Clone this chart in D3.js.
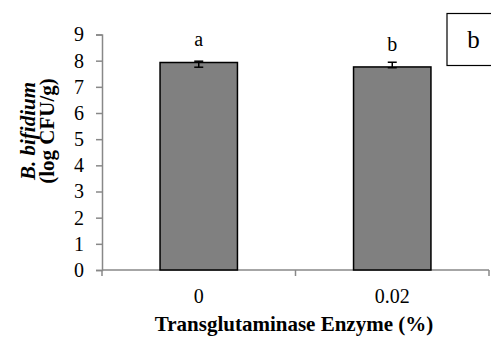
<!DOCTYPE html>
<html>
<head>
<meta charset="utf-8">
<script src="https://cdn.jsdelivr.net/npm/d3@7"></script>
<style>
    body { margin: 0; background: #fff; }
    svg, svg text { font-family: "Liberation Serif", "Times New Roman", serif; }
</style>
</head>
<body>
<div class="container"></div>
<script>
var categories = ["0", "0.02"];
var values = [7.93, 7.76];
var errLower = [7.75, 7.73];
var errUpper = [7.98, 7.94];
var letters = ["a", "b"];
var yTicks = [0, 1, 2, 3, 4, 5, 6, 7, 8, 9];

var width = 491, height = 337;
var margin = {left: 102, right: 2, top: 34.5, bottom: 67};

var svg = d3.select(".container").append("svg")
    .attr("width", width)
    .attr("height", height);

var x = d3.scaleBand()
    .domain(categories)
    .range([margin.left, width - margin.right])
    .paddingInner(0.6)
    .paddingOuter(0.3);
// outer band edges for the ticks
var xEdge = d3.scaleLinear().domain([0, categories.length]).range([margin.left, width - margin.right]);

var y = d3.scaleLinear()
    .domain([0, 9])
    .range([height - margin.bottom, margin.top]);

// y axis
var yAxis = svg.append("g")
    .attr("transform", "translate(" + margin.left + ",0)")
    .call(d3.axisLeft(y).tickValues(yTicks).tickSize(6).tickPadding(12));
yAxis.attr("font-family", null).attr("font-size", null);
yAxis.select(".domain").attr("stroke", "#888").attr("stroke-width", 1.5);
yAxis.selectAll(".tick line").attr("stroke", "#888").attr("stroke-width", 1.5);
yAxis.selectAll(".tick text")
    .style("font-size", "20px")
    .attr("fill", "#000");

// x axis line + ticks between categories
var x0 = height - margin.bottom;
svg.append("line")
    .attr("x1", margin.left).attr("x2", width - margin.right)
    .attr("y1", x0).attr("y2", x0)
    .attr("stroke", "#888").attr("stroke-width", 1.5);
svg.selectAll(".xtick")
    .data(d3.range(categories.length + 1))
    .enter()
    .append("line")
    .attr("x1", d => xEdge(d)).attr("x2", d => xEdge(d))
    .attr("y1", x0).attr("y2", x0 + 6)
    .attr("stroke", "#888").attr("stroke-width", 1.5);

svg.selectAll(".xlabel")
    .data(categories)
    .enter()
    .append("text")
    .attr("x", d => x(d) + x.bandwidth() / 2)
    .attr("y", 303)
    .attr("text-anchor", "middle")
    .style("font-size", "20px")
    .text(d => d);

// bars
svg.selectAll(".bar")
    .data(values)
    .enter()
    .append("rect")
    .attr("x", (d, i) => x(categories[i]))
    .attr("y", d => y(d))
    .attr("width", x.bandwidth())
    .attr("height", d => y(0) - y(d))
    .attr("fill", "#808080")
    .attr("stroke", "#000")
    .attr("stroke-width", 1.5);

// error bars
var eb = svg.selectAll(".err")
    .data(values)
    .enter()
    .append("g");
eb.append("line")
    .attr("x1", (d, i) => x(categories[i]) + x.bandwidth() / 2)
    .attr("x2", (d, i) => x(categories[i]) + x.bandwidth() / 2)
    .attr("y1", (d, i) => y(errUpper[i]))
    .attr("y2", (d, i) => y(errLower[i]))
    .attr("stroke", "#000").attr("stroke-width", 1.5);
[errUpper, errLower].forEach(function (arr) {
    eb.append("line")
        .attr("x1", (d, i) => x(categories[i]) + x.bandwidth() / 2 - 4.5)
        .attr("x2", (d, i) => x(categories[i]) + x.bandwidth() / 2 + 4.5)
        .attr("y1", (d, i) => y(arr[i]))
        .attr("y2", (d, i) => y(arr[i]))
        .attr("stroke", "#000").attr("stroke-width", 1.5);
});

// significance letters
svg.selectAll(".letter")
    .data(letters)
    .enter()
    .append("text")
    .attr("x", (d, i) => x(categories[i]) + x.bandwidth() / 2)
    .attr("y", (d, i) => y(values[i]) - 16)
    .attr("text-anchor", "middle")
    .style("font-size", "20px")
    .text(d => d);

// panel label box
svg.append("rect")
    .attr("x", 447).attr("y", 13.5)
    .attr("width", 50).attr("height", 52)
    .attr("fill", "#fff")
    .attr("stroke", "#000").attr("stroke-width", 1.2);
svg.append("text")
    .attr("x", 473.5).attr("y", 48.3)
    .attr("text-anchor", "middle")
    .style("font-size", "25px")
    .text("b");

// y axis title
var yt = svg.append("text")
    .attr("transform", "translate(35,131) rotate(-90)")
    .attr("text-anchor", "middle")
    .style("font-size", "21px")
    .attr("font-weight", "bold");
yt.append("tspan").attr("x", 0).attr("font-style", "italic").text("B. bifidium");
yt.append("tspan").attr("x", 0).attr("dy", 19).text("(log CFU/g)");

// x axis title
svg.append("text")
    .attr("x", 294)
    .attr("y", 331)
    .attr("text-anchor", "middle")
    .style("font-size", "21px")
    .attr("font-weight", "bold")
    .text("Transglutaminase Enzyme (%)");
</script>
</body>
</html>
